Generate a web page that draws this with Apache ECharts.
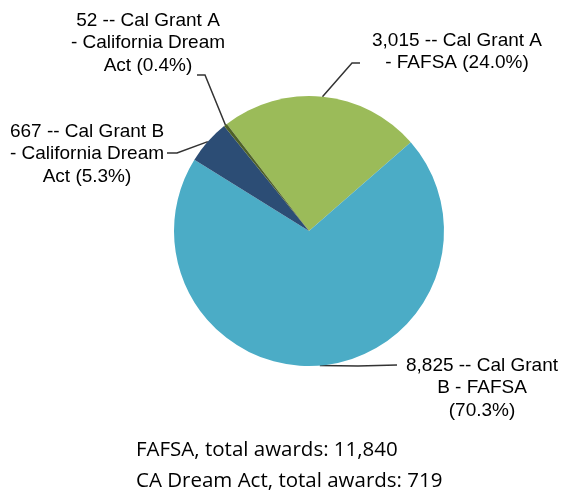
<!DOCTYPE html>
<html>
<head>
<meta charset="utf-8">
<script src="https://cdn.jsdelivr.net/npm/echarts@6/dist/echarts.min.js"></script>
<style>
  html, body { margin: 0; padding: 0; background: #fff; }
  #chart { width: 564px; height: 496px; }
</style>
</head>
<body>
<div id="chart"></div>
<script>
// slices in clockwise order, starting at the green one
var names = ['Cal Grant A\n- FAFSA', 'Cal Grant\nB - FAFSA', 'Cal Grant B\n- California Dream\nAct', 'Cal Grant A\n- California Dream\nAct'];
var values = [3015, 8825, 667, 52];
var pctSep = [' ', '\n', ' ', ' '];
var colors = ['#9bbb59', '#4bacc6', '#2c4d75', '#4f6228'];
var isFafsa = [true, true, false, false];

var total = values.reduce(function (a, b) { return a + b; }, 0);
var fafsaTotal = 0, dreamTotal = 0;
values.forEach(function (v, i) { if (isFafsa[i]) fafsaTotal += v; else dreamTotal += v; });

// where each label sits and its leader-line elbow
var labelPos = [
  { x: 457, y: 52, mid: [352, 63], end: [360, 63] },
  { x: 482, y: 388, mid: [358, 366], end: [397, 365] },
  { x: 87, y: 154, mid: [177, 153], end: [167, 153] },
  { x: 148, y: 43, mid: [205, 75], end: [197, 75] }
];

var chart = echarts.init(document.getElementById('chart'));

var data = values.map(function (v, i) {
  return { name: names[i], value: v, itemStyle: { color: colors[i] } };
});

chart.setOption({
  animation: false,
  series: [{
    type: 'pie',
    center: [309, 231],
    radius: 135,
    startAngle: 127.5,
    clockwise: true,
    avoidLabelOverlap: false,
    data: data,
    itemStyle: { borderWidth: 0 },
    label: {
      show: true,
      position: 'outside',
      fontFamily: '"Liberation Sans", Arial, sans-serif',
      fontSize: 19,
      lineHeight: 22.5,
      color: '#000',
      align: 'center',
      formatter: function (p) {
        var pct = (p.value / total * 100).toFixed(1);
        return p.value.toLocaleString('en-US') + ' -- ' + p.name + pctSep[p.dataIndex] + '(' + pct + '%)';
      }
    },
    labelLine: {
      show: true,
      lineStyle: { color: '#333', width: 1.5 }
    },
    labelLayout: function (params) {
      var lp = labelPos[params.dataIndex];
      var start = params.labelLinePoints ? params.labelLinePoints[0] : lp.mid;
      return {
        x: lp.x,
        y: lp.y,
        align: 'center',
        verticalAlign: 'middle',
        labelLinePoints: [start, lp.mid, lp.end]
      };
    }
  }],
  graphic: [
    {
      type: 'text',
      left: 136,
      top: 440,
      style: {
        text: 'FAFSA, total awards: ' + fafsaTotal.toLocaleString('en-US'),
        font: '20.5px "Open Sans", sans-serif',
        fill: '#000'
      }
    },
    {
      type: 'text',
      left: 136,
      top: 471,
      style: {
        text: 'CA Dream Act, total awards: ' + dreamTotal.toLocaleString('en-US'),
        font: '20.5px "Open Sans", sans-serif',
        fill: '#000'
      }
    }
  ]
});
</script>
</body>
</html>
